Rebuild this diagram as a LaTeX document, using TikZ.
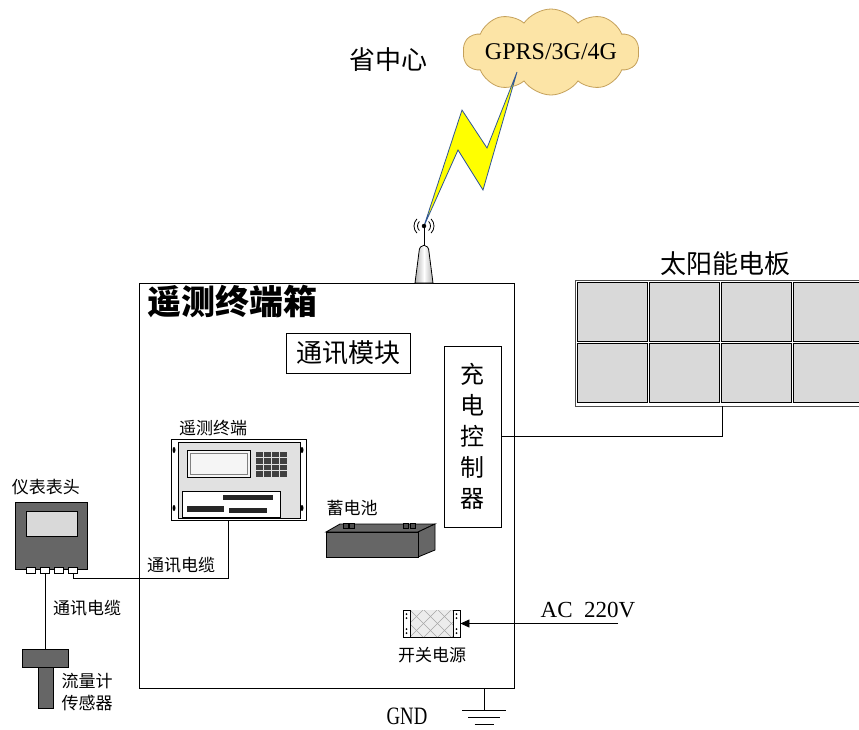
\documentclass[tikz,border=0pt]{standalone}
\usepackage{fontspec}
\setmainfont{Liberation Serif}
\newfontfamily\cjk{Noto Sans CJK SC}
\newfontfamily\narrow{Liberation Serif}[FakeStretch=0.75]
\usetikzlibrary{arrows.meta,positioning,calc,shapes.symbols}
\definecolor{PanelGray}{RGB}{217,217,217}
\definecolor{DevGray}{RGB}{102,102,102}
\definecolor{CloudFill}{RGB}{252,228,166}
\definecolor{CloudLine}{RGB}{196,160,90}
\definecolor{BoltBlue}{RGB}{47,85,151}
\definecolor{BoltYellow}{RGB}{255,255,0}

\tikzset{
  frame/.style={draw,line width=.9pt,inner sep=0pt},
  wire/.style={line width=.9pt},
  zh/.style={font=\cjk\fontsize{#1}{#1}\selectfont,inner sep=0pt},
  zh/.default=17,
  en/.style={font=\fontsize{#1}{#1}\selectfont,inner sep=0pt},
  title/.style={font=\cjk\bfseries\fontsize{34}{34}\selectfont,inner sep=0pt},
}

\begin{document}
\begin{tikzpicture}[x=1pt,y=-1pt]
  \useasboundingbox (0,0) rectangle (859,729);

  % terminal box and what sits in it
  \node[frame,minimum width=375,minimum height=405] (box) at (326.5,485.5) {};
  \node[title] (boxname) at (232,301) {遥测终端箱};
  \node[frame,zh=26,minimum width=124,minimum height=40] (comm) at (348,353) {通讯模块};
  \node[frame,font=\cjk\fontsize{24}{31}\selectfont,align=center,
        minimum width=57,minimum height=181] (chg) at (472.5,436.5) {充\\电\\控\\制\\器};

  % cloud, bolt and antenna
  \node[zh=26] (centre) at (388,60) {省中心};
  \node[cloud,cloud puffs=10,cloud puff arc=110,aspect=2.2,draw=CloudLine,fill=CloudFill,
        line width=.8pt,minimum width=176,minimum height=86,inner sep=0pt] (net) at (551,52) {};
  \node[en=24] (netname) at (net.center) {GPRS/3G/4G};
  \coordinate (ant) at (424,226);
  \draw[fill=BoltYellow,draw=BoltBlue,line width=.8pt,line join=miter]
    (ant) -- (462,110) -- (487,148) -- (517,72) -- (483,190) -- (458,150) -- cycle;
  \draw[line width=.9pt] (ant) -- (424,245);
  \draw[fill=black] (ant) circle (2);
  \foreach \r in {6.5,10} {
    \draw[line width=.8pt] (ant) ++(135:\r) arc (135:225:\r);
    \draw[line width=.8pt] (ant) ++(-45:\r) arc (-45:45:\r);
  }
  \draw[line width=.8pt,left color=gray!60,right color=gray!60,middle color=white]
    (415,283) -- (419,252) .. controls (419,243) and (429,243) .. (429,252) -- (433,283) -- cycle;

  % solar panel
  \node[zh=26] (pvname) at (725,264) {太阳能电板};
  \draw[gray!60!black,line width=.8pt] (575,280) rectangle (865,406);
  \foreach \c in {0,...,3}
    \foreach \r in {0,1}
      \draw[fill=PanelGray,line width=1pt] ({577+72*\c},{282+61*\r}) rectangle ++(70,59);
  \coordinate (pvout) at (722,406);
  \draw[wire] (chg.east) -| (pvout);

  % remote terminal unit
  \node[zh] (rtuname) at (213,428) {遥测终端};
  \node[frame,fill=white,minimum width=135,minimum height=81] (rtu) at (238.5,479.5) {};
  \draw[fill=PanelGray!80,line width=.8pt] (178,442) rectangle (300,518);
  \foreach \x in {174,302}
    \foreach \y in {450,508}
      \fill (\x,\y) ellipse (1.5 and 3);
  \draw[fill=white!92!gray,line width=.8pt] (187,450) rectangle (250,477);
  \draw[gray] (190,453) rectangle (247,474);
  \foreach \i in {0,...,3}
    \foreach \j in {0,...,3}
      \fill[black!75] ({256+8*\i},{452+6.4*\j}) rectangle ++(6.5,5.4);
  \draw[fill=white,line width=.8pt] (182,491) rectangle (280,517);
  \fill[black!85] (223,495) rectangle (273,500);
  \fill[black!85] (187,506) rectangle (224,512);
  \fill[black!85] (229,508) rectangle (267,513);
  \coordinate (rtuio) at (228,520);

  % meter head and flow sensor
  \node[zh] (metername) at (46,487) {仪表表头};
  \node[frame,fill=DevGray,minimum width=72,minimum height=67] (meter) at (51,535.5) {};
  \draw[fill=PanelGray,line width=.9pt] (26,511) rectangle (77,536);
  \foreach \k/\x in {1/31,2/45,3/59,4/73}
    \node[draw,fill=white,line width=.8pt,minimum width=9,minimum height=6,inner sep=0pt]
      (mp\k) at (\x,570) {};
  \draw[wire] (rtuio) -- ++(0,58) -| (mp4.south);
  \node[zh] (cable1) at (181,565) {通讯电缆};

  \node[frame,fill=DevGray,minimum width=46,minimum height=18] (sensor) at (45,658) {};
  \draw[fill=DevGray,line width=.9pt] (38,667) rectangle (53,708);
  \draw[wire] (mp2.south) -- (sensor.north);
  \node[zh] (cable2) at (87,608) {通讯电缆};
  \node[font=\cjk\fontsize{17}{22}\selectfont,inner sep=0pt,align=center] (sensorname) at (87,692) {流量计\\传感器};

  % battery
  \node[zh] (battname) at (352,508) {蓄电池};
  \draw[fill=DevGray,line width=.8pt] (326,532) -- (340,524) -- (435,524) -- (418,532) -- cycle;
  \draw[fill=DevGray,line width=.8pt] (418,532) -- (435,524) -- (435,550) -- (418,557) -- cycle;
  \draw[fill=DevGray,line width=.8pt] (326,532) rectangle (418,557);
  \foreach \x in {343,349,403,410}
    \draw[fill=black!70] (\x,523) rectangle ++(5,5);

  % switching power supply
  \node[frame,minimum width=57,minimum height=27] (psu) at (431.5,623.5) {};
  \begin{scope}
    \clip (410,610) rectangle (453,637);
    \fill[PanelGray!50] (410,610) rectangle (453,637);
    \foreach \d in {-28,-14,...,42} {
      \draw[gray!70] ({410+\d},610) -- ++(27,27);
      \draw[gray!70] ({410+\d},637) -- ++(27,-27);
    }
  \end{scope}
  \draw[fill=white,line width=.8pt] (403,610) rectangle (410,637);
  \draw[fill=white,line width=.8pt] (453,610) rectangle (460,637);
  \foreach \x in {406.5,456.5}
    \foreach \y in {614,618,629,633}
      \fill (\x,\y) circle (1);
  \node[zh] (psuname) at (432,655) {开关电源};
  \coordinate (acin) at (618,623.5);
  \draw[wire,-{Triangle[length=9pt,width=8pt]}] (acin) -- (psu.east);
  \node[en=23] (acname) at (588,610) {AC\ \ 220V};

  % earth
  \coordinate (gnd) at (484,710);
  \draw[wire] (box.south -| gnd) -- (gnd);
  \draw[wire] ([xshift=-22pt]gnd) -- ([xshift=22pt]gnd);
  \draw[wire] ([xshift=-16pt,yshift=-7pt]gnd) -- ([xshift=16pt,yshift=-7pt]gnd);
  \draw[wire] ([xshift=-9.5pt,yshift=-14pt]gnd) -- ([xshift=9.5pt,yshift=-14pt]gnd);
  \node[font=\narrow\fontsize{25}{25}\selectfont,inner sep=0pt] (gndname) at (407,716) {GND};
\end{tikzpicture}
\end{document}
